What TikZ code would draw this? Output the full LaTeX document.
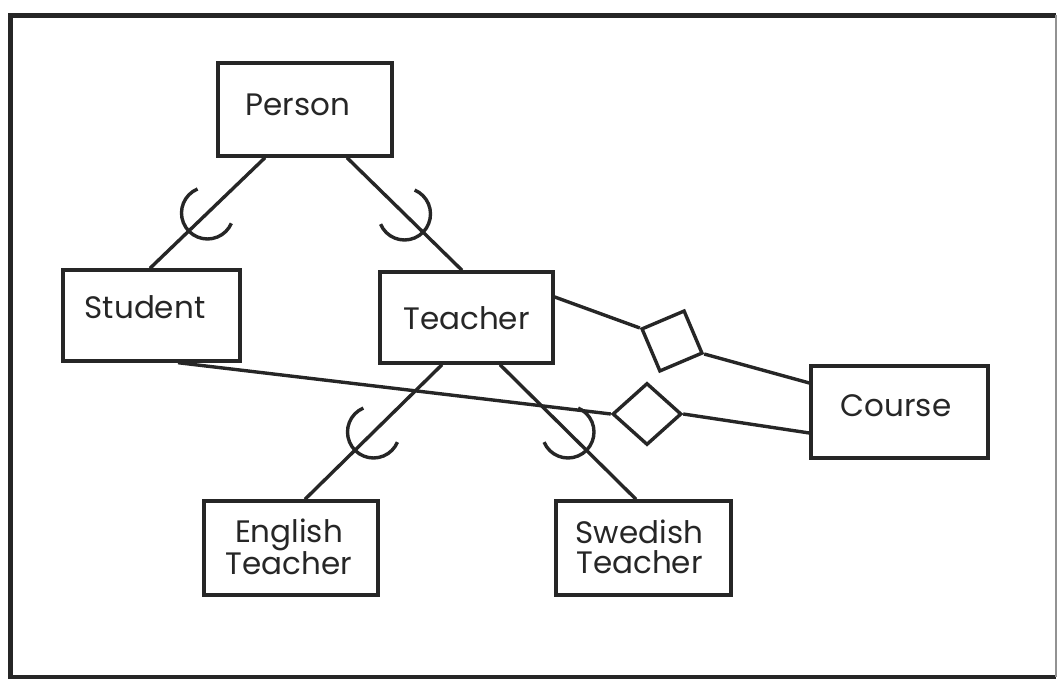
\documentclass[tikz,border=0pt]{standalone}
\usepackage{fontspec}
\setmainfont{Poppins}
\usetikzlibrary{shapes.geometric,calc}
\definecolor{ink}{RGB}{38,38,38}
\begin{document}
\begin{tikzpicture}[x=1pt,y=1pt,
  box/.style={rectangle, draw=ink, line width=3.4pt, inner sep=0pt},
  lbl/.style={font=\fontsize{31}{30}\selectfont, align=center, inner sep=0pt, text=ink},
  dia/.style={diamond, draw=ink, line width=3.4pt, inner sep=0pt, fill=white},
  conn/.style={draw=ink, line width=3.4pt},
  frame/.style={draw=ink, line width=5pt}]
\useasboundingbox (0,0) rectangle (1058,679);
% frame
\draw[frame] (1056,663.5) -- (10,663.5) -- (10,1.5) -- (1056,1.5);
\draw[draw=ink!50, line width=1.5pt] (1056,663.5) -- (1056,1.5);
% classes
\node[box, minimum width=174, minimum height=93,
  label={[lbl, name=tperson, xshift=-7pt, yshift=5pt]center:Person}] (person) at (305,569.5) {};
\node[box, minimum width=177, minimum height=91,
  label={[lbl, name=tstudent, xshift=-6.5pt, yshift=8pt]center:Student}] (student) at (151.5,363.5) {};
\node[box, minimum width=173, minimum height=91,
  label={[lbl, name=tteacher, yshift=-1pt]center:Teacher}] (teacher) at (466.5,361.5) {};
\node[box, minimum width=177, minimum height=92,
  label={[lbl, name=tcourse, xshift=-3.5pt, yshift=6pt]center:Course}] (course) at (899.5,267) {};
\node[box, minimum width=174, minimum height=94,
  label={[lbl, name=tenglish, xshift=-2pt, yshift=1pt]center:{English\\Teacher}}] (english) at (291,131) {};
\node[box, minimum width=175, minimum height=94,
  label={[lbl, name=tswedish, xshift=-4pt, yshift=1pt]center:{Swedish\\Teacher}}] (swedish) at (643.5,131) {};
% relationship diamonds
\node[dia, minimum width=69, minimum height=62] (d2) at (647,265) {};
\node[dia, minimum width=66, minimum height=66, rotate=-22] (d1) at (672,338) {};
% generalisation lines
\draw[conn] ($(person.south)+(-40,0)$) -- coordinate[pos=.5] (m1) ($(student.north)+(-1.5,0)$);
\draw[conn] ($(person.south)+(42,0)$) -- coordinate[pos=.5] (m2) ($(teacher.north)+(-4.5,0)$);
\draw[conn] ($(teacher.south)+(-24.5,0)$) -- coordinate[pos=.5] (m3) ($(english.north)+(14,0)$);
\draw[conn] ($(teacher.south)+(33.5,0)$) -- coordinate[pos=.5] (m4) ($(swedish.north)+(-7.5,0)$);
% subset arcs
\draw[conn] ([shift={(112.5:26)}]m1) arc[start angle=112.5, end angle=336.5, radius=26];
\draw[conn] ([shift={(203:26)}]m2) arc[start angle=203, end angle=427, radius=26];
\draw[conn] ([shift={(113:26)}]m3) arc[start angle=113, end angle=337, radius=26];
\draw[conn] ([shift={(203:26)}]m4) arc[start angle=203, end angle=427, radius=26];
% associations
\draw[conn] ($(teacher.east)+(0,20.5)$) -- (d1.west);
\draw[conn] (d1.east) -- ($(course.west)+(0,29)$);
\draw[conn] ($(student.south)+(26.5,0)$) -- (d2.west);
\draw[conn] (d2.east) -- ($(course.west)+(0,-21)$);
\end{tikzpicture}
\end{document}
